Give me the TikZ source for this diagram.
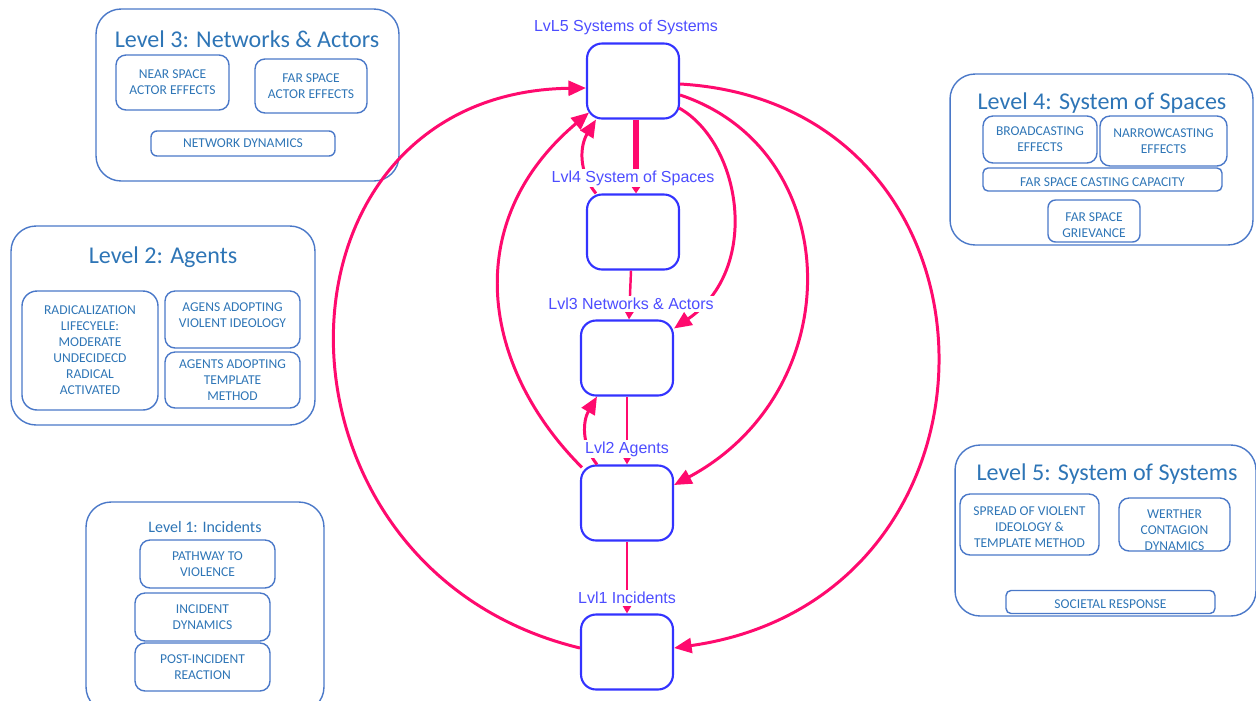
\documentclass[tikz,border=0pt]{standalone}
\usepackage{fontspec}
\setmainfont{Carlito}
\newfontfamily\arialf{Liberation Sans}
\usetikzlibrary{arrows.meta,calc}
\definecolor{panelblue}{HTML}{4A78C8}
\definecolor{textblue}{HTML}{2E75B6}
\definecolor{boxblue}{HTML}{3333FF}
\definecolor{labblue}{HTML}{4D4DFF}
\definecolor{hotpink}{HTML}{FF0A6E}
\tikzset{
  panel/.style={draw=panelblue, line width=0.8pt, rounded corners=0.5cm},
  ptitle/.style={text=textblue, font=\fontsize{13.7}{16}\selectfont, inner sep=1pt},
  stitle/.style={text=textblue, font=\fontsize{9.1}{11}\selectfont, inner sep=1pt},
  ibox/.style={draw=panelblue, line width=0.8pt, rounded corners=0.2cm, text=textblue,
    align=center, inner sep=0pt, font=\fontsize{7.7}{9.1}\selectfont},
  lvbox/.style={draw=boxblue, line width=1.2pt, rounded corners=0.3cm, fill=white,
    minimum width=1.84cm, minimum height=1.5cm, inner sep=0pt},
  lvlabel/.style={text=labblue, font=\arialf\fontsize{9.1}{11}\selectfont, fill=white, inner sep=1pt},
  parrow/.style={draw=hotpink, line width=1.7pt, -{Triangle[length=10pt,width=8.5pt]}},
  sarrow/.style={draw=hotpink, line width=1.4pt, -{Triangle[length=5.5pt,width=6pt]}},
  tarrow/.style={draw=hotpink, line width=3.3pt, -{Triangle[length=5.5pt,width=7pt]}},
}
\begin{document}
\begin{tikzpicture}[x=0.02cm,y=-0.02cm]
\useasboundingbox (0,0) rectangle (1256,700);
\clip (0,0) rectangle (1256,700);

% ---- side panels ----
\node[panel, minimum width=6.06cm, minimum height=3.44cm] (p3) at (247.5,95) {};
\node[ptitle] (t3) at (247,39) {Level 3: Networks \& Actors};
\node[ibox, minimum width=2.26cm, minimum height=1.1cm] (b3a) at (172.5,82.5) {NEAR SPACE\\ACTOR EFFECTS};
\node[ibox, minimum width=2.24cm, minimum height=1.08cm] (b3b) at (311,86) {FAR SPACE\\ACTOR EFFECTS};
\node[ibox, minimum width=3.68cm, minimum height=0.5cm, rounded corners=0.12cm] (b3c) at (243,143.5) {NETWORK DYNAMICS};

\node[panel, minimum width=6.08cm, minimum height=3.98cm] (p2) at (163,325.5) {};
\node[ptitle] (t2) at (163,257) {Level 2: Agents};
\node[ibox, minimum width=2.72cm, minimum height=2.38cm, rounded corners=0.3cm] (b2a) at (90,350.5) {RADICALIZATION\\LIFECYELE:\\MODERATE\\UNDECIDECD\\RADICAL\\ACTIVATED};
\node[ibox, minimum width=2.7cm, minimum height=1.14cm] (b2b) at (232.5,319.5) {AGENS ADOPTING\\VIOLENT IDEOLOGY\rule[-4.5pt]{0pt}{0pt}};
\node[ibox, minimum width=2.7cm, minimum height=1.12cm] (b2c) at (232.5,380) {AGENTS ADOPTING\\TEMPLATE\\METHOD};

\node[panel, minimum width=4.76cm, minimum height=4.2cm] (p1) at (205,607) {};
\node[stitle] (t1) at (205,527) {Level 1: Incidents};
\node[ibox, minimum width=2.7cm, minimum height=0.96cm] (b1a) at (207.5,564) {PATHWAY TO\\VIOLENCE};
\node[ibox, minimum width=2.7cm, minimum height=0.96cm] (b1b) at (202.5,617) {INCIDENT\\DYNAMICS};
\node[ibox, minimum width=2.7cm, minimum height=0.96cm] (b1c) at (202.5,667) {POST-INCIDENT\\REACTION};

\node[panel, minimum width=6.06cm, minimum height=3.42cm] (p4) at (1101.5,159.5) {};
\node[ptitle] (t4) at (1102,103) {Level 4: System of Spaces};
\node[ibox, minimum width=2.28cm, minimum height=0.94cm] (b4a) at (1040,139.5) {BROADCASTING\\EFFECTS};
\node[ibox, minimum width=2.54cm, minimum height=1.0cm] (b4b) at (1163.5,141) {NARROWCASTING\\EFFECTS};
\node[ibox, minimum width=4.78cm, minimum height=0.46cm, rounded corners=0.1cm] (b4c) at (1102.5,179.5) {\rule{0pt}{7.8pt}FAR SPACE CASTING CAPACITY};
\node[ibox, minimum width=1.84cm, minimum height=0.84cm, rounded corners=0.15cm] (b4d) at (1094,221) {\rule{0pt}{9.6pt}FAR SPACE\\GRIEVANCE};

\node[panel, minimum width=6.02cm, minimum height=3.42cm] (p5) at (1105.5,530.5) {};
\node[ptitle] (t5) at (1107,474) {Level 5: System of Systems};
\node[ibox, minimum width=2.78cm, minimum height=1.22cm] (b5a) at (1029.5,524.5) {\rule{0pt}{8pt}SPREAD OF VIOLENT\\IDEOLOGY \&\\TEMPLATE METHOD};
\node[ibox, minimum width=2.22cm, minimum height=1.06cm] (b5b) at (1174.5,524.5) {\rule{0pt}{11pt}WERTHER\\CONTAGION\\DYNAMICS};
\node[ibox, minimum width=4.18cm, minimum height=0.46cm, rounded corners=0.1cm] (b5c) at (1110.5,602) {\rule{0pt}{7.8pt}SOCIETAL RESPONSE};

% ---- central level boxes ----
\node[lvbox] (l5) at (633,81) {};
\node[lvbox] (l4) at (633,232) {};
\node[lvbox] (l3) at (627,358) {};
\node[lvbox] (l2) at (627,503) {};
\node[lvbox] (l1) at (627,652) {};

% ---- connectors ----
\draw[tarrow] ($(l5.south)+(3,0)$) -- ($(l4.north)+(3,0)$);
\draw[sarrow] ($(l4.south)+(-2,0)$) -- ($(l3.north)+(2,0)$);
\draw[sarrow] (l3.south) -- (l2.north);
\draw[sarrow] (l2.south) -- (l1.north);

\draw[parrow] ($(l4.north west)+(10,0)$) .. controls +(-18,-22) and +(-16,26) .. ($(l5.south west)+(10,0)$);
\draw[parrow] ($(l2.north west)+(17,0)$) .. controls +(-16,-20) and +(-14,24) .. ($(l3.south west)+(17,0)$);
\draw[parrow] ($(l2.north west)+(2,3)$) .. controls +(-100,-100) and +(-130,110) .. ($(l5.south west)+(3,-7)$);
\draw[parrow] ($(l1.west)+(0,-4)$) .. controls +(-330,-80) and +(-330,5) .. ($(l5.west)+(0,7)$);

\draw[parrow] ($(l5.east)+(-1,27)$) .. controls +(62,35) and +(88,-60) .. ($(l3.north east)+(0,9)$);
\draw[parrow] ($(l5.east)+(0,14)$) .. controls +(166,55) and +(177,-95) .. ($(l2.east)+(0,-18)$);
\draw[parrow] ($(l5.east)+(0,3)$) .. controls +(341,20) and +(352,-50) .. ($(l1.east)+(0,-4)$);

% ---- level labels ----
\node[lvlabel] (lab5) at (626,27) {LvL5 Systems of Systems};
\node[lvlabel] (lab4) at (633,178) {Lvl4 System of Spaces};
\node[lvlabel] (lab3) at (631,304) {Lvl3 Networks \& Actors};
\node[lvlabel] (lab2) at (627,449) {Lvl2 Agents};
\node[lvlabel] (lab1) at (627,598) {Lvl1 Incidents};
\end{tikzpicture}
\end{document}
